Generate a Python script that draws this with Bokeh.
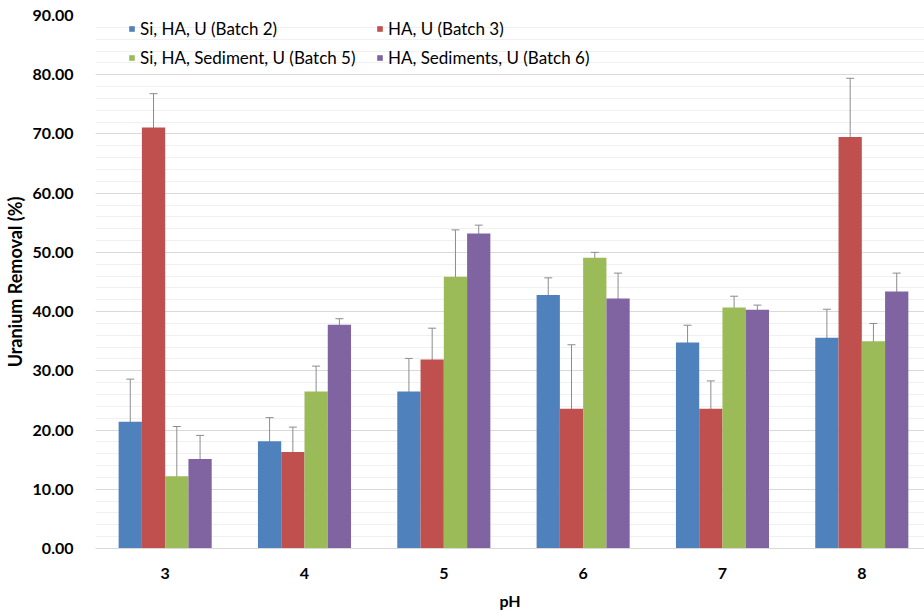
from bokeh.plotting import figure
from bokeh.models import (ColumnDataSource, Whisker, TeeHead, FixedTicker, Legend,
                          LegendItem, NumeralTickFormatter, Range1d)
from bokeh.embed import file_html
from bokeh.resources import INLINE

# ---------------- data ----------------
ph = [3, 4, 5, 6, 7, 8]
series_names = ["Si, HA, U (Batch 2)", "HA, U (Batch 3)",
                "Si, HA, Sediment, U (Batch 5)", "HA, Sediments, U (Batch 6)"]
batch2 = [21.4, 18.1, 26.5, 42.8, 34.8, 35.6]
batch2_err = [7.2, 4.0, 5.6, 2.9, 2.9, 4.8]
batch3 = [71.1, 16.3, 31.9, 23.6, 23.6, 69.5]
batch3_err = [5.7, 4.2, 5.3, 10.8, 4.7, 9.9]
batch5 = [12.2, 26.5, 45.9, 49.1, 40.7, 35.0]
batch5_err = [8.4, 4.3, 7.9, 0.9, 1.9, 3.0]
batch6 = [15.1, 37.8, 53.2, 42.2, 40.3, 43.4]
batch6_err = [4.0, 1.0, 1.4, 4.3, 0.8, 3.1]
y_ticks = [0, 10, 20, 30, 40, 50, 60, 70, 80, 90]
x_label = "pH"
y_label = "Uranium Removal (%)"

values = [batch2, batch3, batch5, batch6]
errors = [batch2_err, batch3_err, batch5_err, batch6_err]
colors = ["#4F81BD", "#C0504D", "#9BBB59", "#8064A2"]

FONT = "Lato"
bar_w = 0.167

p = figure(width=924, height=612, output_backend="svg", toolbar_location=None,
           x_range=Range1d(2.5, 8.45), y_range=Range1d(0, 90),
           min_border_left=93, min_border_right=0, min_border_top=15,
           min_border_bottom=64)
p.outline_line_color = None
p.background_fill_color = "white"
p.border_fill_color = "white"

renderers = []
for i, (vals, errs, col) in enumerate(zip(values, errors, colors)):
    off = (i - 1.5) * bar_w
    xs = [v + off for v in ph]
    src = ColumnDataSource(dict(x=xs, top=vals,
                                upper=[v + e for v, e in zip(vals, errs)],
                                lower=[v - e for v, e in zip(vals, errs)]))
    r = p.vbar(x="x", top="top", width=bar_w, bottom=0, source=src,
               fill_color=col, line_color=None)
    renderers.append(r)
    w = Whisker(base="x", upper="upper", lower="lower", source=src,
                line_color="#8C8C8C", line_width=1,
                upper_head=TeeHead(size=8, line_color="#8C8C8C", line_width=1),
                lower_head=TeeHead(size=8, line_color="#8C8C8C", line_width=1))
    p.add_layout(w)

# axes
p.xaxis.ticker = FixedTicker(ticks=ph)
p.xaxis.axis_line_color = "#D9D9D9"
p.xaxis.major_tick_line_color = None
p.xaxis.minor_tick_line_color = None
p.xaxis.major_label_text_font = FONT
p.xaxis.major_label_text_font_style = "bold"
p.xaxis.major_label_text_font_size = "16px"
p.xaxis.major_label_text_color = "#000000"
p.xaxis.major_label_standoff = 13
p.xaxis.axis_label = x_label
p.xaxis.axis_label_text_font = FONT
p.xaxis.axis_label_text_font_style = "bold"
p.xaxis.axis_label_text_font_size = "16px"
p.xaxis.axis_label_text_color = "#000000"
p.xaxis.axis_label_standoff = 9

p.yaxis.ticker = FixedTicker(ticks=y_ticks)
p.yaxis.formatter = NumeralTickFormatter(format="0.00")
p.yaxis.axis_line_color = None
p.yaxis.major_tick_line_color = None
p.yaxis.minor_tick_line_color = None
p.yaxis.major_label_text_font = FONT
p.yaxis.major_label_text_font_style = "bold"
p.yaxis.major_label_text_font_size = "16px"
p.yaxis.major_label_text_color = "#000000"
p.yaxis.major_label_standoff = 16
p.yaxis.axis_label = y_label
p.yaxis.axis_label_text_font = FONT
p.yaxis.axis_label_text_font_style = "bold"
p.yaxis.axis_label_text_font_size = "18px"
p.yaxis.axis_label_text_color = "#000000"
p.yaxis.axis_label_standoff = 4

# grid
p.xgrid.grid_line_color = None
p.ygrid.ticker = FixedTicker(ticks=y_ticks, minor_ticks=list(range(0, 91, 2)))
p.ygrid.grid_line_color = "#D9D9D9"
p.ygrid.grid_line_width = 1
p.ygrid.minor_grid_line_color = "#F0F0F0"
p.ygrid.minor_grid_line_width = 1

# legends (two columns)
def make_legend(idx, x):
    lg = Legend(items=[LegendItem(label=series_names[k], renderers=[renderers[k]]) for k in idx],
                location=(x, 480), orientation="vertical",
                border_line_color=None, background_fill_alpha=0,
                padding=0, margin=0, spacing=8,
                glyph_width=7, glyph_height=7, label_height=20,
                label_standoff=5,
                label_text_font=FONT, label_text_font_size="17px",
                label_text_color="#000000")
    p.add_layout(lg, "center")

make_legend([0, 2], 33)
make_legend([1, 3], 281)

open("out.html", "w").write(file_html(p, INLINE))
